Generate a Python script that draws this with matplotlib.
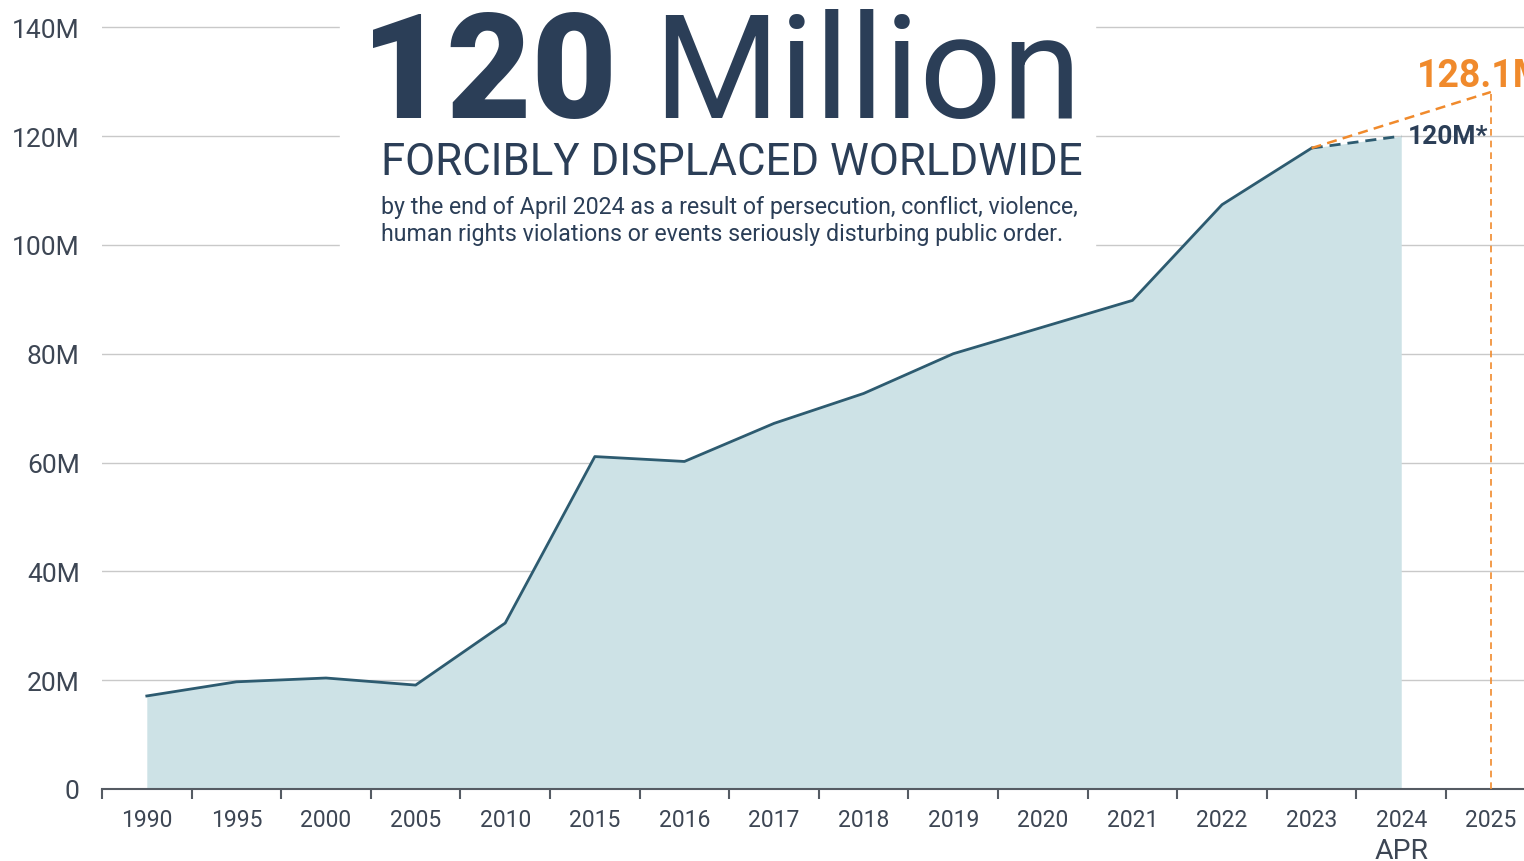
import matplotlib
matplotlib.use("Agg")
import matplotlib.pyplot as plt
from matplotlib.patches import Rectangle
import matplotlib.transforms as mtransforms
import numpy as np

plt.rcParams['font.family'] = ['Roboto', 'DejaVu Sans']

# data (millions)
years = ["1990", "1995", "2000", "2005", "2010", "2015", "2016", "2017", "2018",
         "2019", "2020", "2021", "2022", "2023", "2024", "2025"]
displaced = [17.1, 19.7, 20.4, 19.1, 30.5, 61.1, 60.2, 67.2, 72.7,
             80.0, 84.9, 89.8, 107.4, 117.8]
apr_2024 = 120.0
proj_2025 = 128.1
yticks = [0, 20, 40, 60, 80, 100, 120, 140]
ylabels = ["0", "20M", "40M", "60M", "80M", "100M", "120M", "140M"]

navy = "#2b3e57"
line_c = "#2d5b70"
fill_c = "#cde2e6"
orange = "#f08a2c"
grid_c = "#c9c9c9"
tick_c = "#3d4654"

fig = plt.figure(figsize=(15.24, 8.62), dpi=100)
ax = fig.add_axes([102/1524, 1 - 790/862, 1 - 102/1524, 790/862])

x = np.arange(len(years))
n = len(displaced)

# filled area up to April 2024
fill_y = displaced + [apr_2024]
ax.fill_between(x[:n + 1], 0, fill_y, color=fill_c, lw=0, zorder=2)
ax.plot(x[:n], displaced, color=line_c, lw=2, zorder=3)
ax.plot([x[n - 1], x[n]], [displaced[-1], apr_2024], color=line_c, lw=2,
        ls=(0, (4, 2.5)), zorder=3)
ax.plot([x[n - 1], x[n + 1]], [displaced[-1], proj_2025], color=orange, lw=1.8,
        ls=(0, (4, 2.5)), zorder=3)
ax.plot([x[n + 1], x[n + 1]], [0, proj_2025], color=orange, lw=1.2,
        ls=(0, (4, 3)), zorder=3)

ax.text(x[n] + 0.07, apr_2024, "120M*", color=navy, fontsize=19,
        fontweight='bold', va='center', ha='left', zorder=4)
ax.text(x[n] + 0.18, proj_2025 + 1.2, "128.1M", color=orange, fontsize=27,
        fontweight='bold', va='baseline', ha='left', zorder=4)

# grid
for v in yticks[1:]:
    ax.axhline(v, color=grid_c, lw=1, zorder=0.5)

ax.set_yticks(yticks)
ax.set_yticklabels(ylabels, fontsize=19, color=tick_c)
ax.tick_params(axis='y', length=0, pad=16)

ax.set_xticks(np.arange(-0.5, len(years), 1.0))
ax.set_xticklabels([])
ax.set_xticks(x, minor=True)
ax.set_xticklabels(years, minor=True, fontsize=16.5, color=tick_c)
ax.tick_params(axis='x', which='major', length=7, width=1.5, color="#555b63", direction='out')
ax.tick_params(axis='x', which='minor', length=0, pad=14)

# "APR" under the 2024 label
trans = mtransforms.blended_transform_factory(ax.transData, fig.transFigure)
ax.text(x[n], 1 - 859/862, "APR", transform=trans, fontsize=20.5, color=tick_c,
        ha='center', va='baseline', clip_on=False)

ax.set_xlim(-0.5, 15.37)
ax.set_ylim(0, 145.2)

for s in ['top', 'right', 'left']:
    ax.spines[s].set_visible(False)
ax.spines['bottom'].set_color("#555b63")
ax.spines['bottom'].set_linewidth(1.5)

# white box behind the headline
fig.patches.append(Rectangle((340/1524, 1 - 255/862), 755/1524, 255/862,
                             transform=fig.transFigure, color='white', zorder=1))

fig.text(361/1524, 1 - 118/862, "120", fontsize=106, fontweight='black',
         color=navy, ha='left', va='baseline', zorder=5)
fig.text(1082/1524, 1 - 118/862, "Million", fontsize=104, fontweight='normal',
         color=navy, ha='right', va='baseline', zorder=5)
fig.text(381/1524, 1 - 175/862, "FORCIBLY DISPLACED WORLDWIDE", fontsize=31.5,
         color=navy, ha='left', va='baseline', zorder=5)
fig.text(381/1524, 1 - 214/862,
         "by the end of April 2024 as a result of persecution, conflict, violence,",
         fontsize=16.7, color=navy, ha='left', va='baseline', zorder=5)
fig.text(381/1524, 1 - 241/862,
         "human rights violations or events seriously disturbing public order.",
         fontsize=16.7, color=navy, ha='left', va='baseline', zorder=5)

fig.savefig("out.png", dpi=100)
